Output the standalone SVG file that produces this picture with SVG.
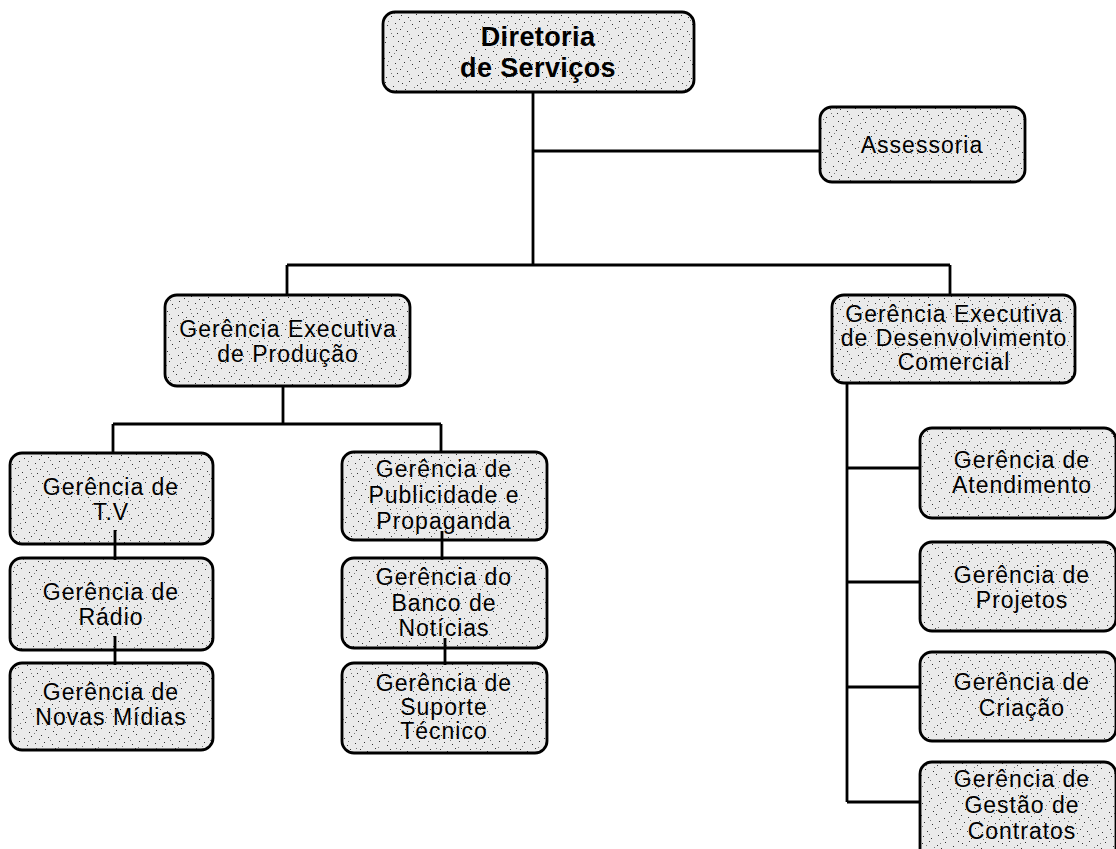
<svg xmlns="http://www.w3.org/2000/svg" width="1116" height="849" viewBox="0 0 1116 849">
<defs>
<pattern id="stip" width="40" height="40" patternUnits="userSpaceOnUse">
<rect width="40" height="40" fill="#eaeaea"/>
<g fill="#333">
<rect x="2" y="3" width="1" height="1"/><rect x="9" y="1" width="1" height="1"/><rect x="17" y="5" width="1" height="1"/><rect x="25" y="2" width="1" height="1"/><rect x="33" y="6" width="1" height="1"/><rect x="38" y="1" width="1" height="1"/>
<rect x="5" y="9" width="1" height="1"/><rect x="13" y="11" width="1" height="1"/><rect x="21" y="8" width="1" height="1"/><rect x="29" y="12" width="1" height="1"/><rect x="36" y="10" width="1" height="1"/>
<rect x="1" y="15" width="1" height="1"/><rect x="8" y="17" width="1" height="1"/><rect x="16" y="14" width="1" height="1"/><rect x="24" y="18" width="1" height="1"/><rect x="31" y="16" width="1" height="1"/><rect x="39" y="19" width="1" height="1"/>
<rect x="4" y="22" width="1" height="1"/><rect x="12" y="24" width="1" height="1"/><rect x="19" y="21" width="1" height="1"/><rect x="27" y="25" width="1" height="1"/><rect x="35" y="23" width="1" height="1"/>
<rect x="0" y="29" width="1" height="1"/><rect x="7" y="31" width="1" height="1"/><rect x="15" y="28" width="1" height="1"/><rect x="22" y="32" width="1" height="1"/><rect x="30" y="29" width="1" height="1"/><rect x="37" y="33" width="1" height="1"/>
<rect x="3" y="36" width="1" height="1"/><rect x="11" y="38" width="1" height="1"/><rect x="18" y="35" width="1" height="1"/><rect x="26" y="37" width="1" height="1"/><rect x="33" y="36" width="1" height="1"/>
</g>
<g fill="#777">
<rect x="6" y="5" width="1" height="1"/><rect x="20" y="3" width="1" height="1"/><rect x="34" y="13" width="1" height="1"/><rect x="10" y="20" width="1" height="1"/><rect x="28" y="21" width="1" height="1"/><rect x="2" y="26" width="1" height="1"/><rect x="18" y="27" width="1" height="1"/><rect x="36" y="28" width="1" height="1"/><rect x="9" y="34" width="1" height="1"/><rect x="23" y="39" width="1" height="1"/><rect x="14" y="7" width="1" height="1"/><rect x="31" y="33" width="1" height="1"/>
</g>
</pattern>
<style>
.box{fill:url(#stip);stroke:#000;stroke-width:2.8}
.t{font-family:"Liberation Sans",Arial,sans-serif;font-size:23px;letter-spacing:1px;fill:#000;text-anchor:middle}
.b{font-weight:bold;font-size:27px;letter-spacing:0.4px}
.c{fill:none;stroke:#000;stroke-width:2.8}
</style>
</defs>
<rect width="1116" height="849" fill="#fff"/>
<g id="nodes">
<g id="diretoria"><rect class="box" x="383" y="12" width="311" height="80" rx="12"/><text class="t b" x="538" y="46">Diretoria</text><text class="t b" x="538" y="77">de Serviços</text></g>
<g id="assessoria"><rect class="box" x="820" y="107" width="205" height="75" rx="12"/><text class="t" x="922" y="153">Assessoria</text></g>
<g id="exec-producao"><rect class="box" x="165" y="295" width="245" height="91" rx="12"/><text class="t" x="288" y="337">Gerência Executiva</text><text class="t" x="288" y="362">de Produção</text></g>
<g id="exec-comercial"><rect class="box" x="832" y="295" width="243" height="88" rx="12"/><text class="t" x="954" y="322">Gerência Executiva</text><text class="t" x="954" y="346">de Desenvolvimento</text><text class="t" x="954" y="370">Comercial</text></g>
<g id="tv"><rect class="box" x="10" y="453" width="203" height="91" rx="12"/><text class="t" x="111" y="495">Gerência de</text><text class="t" x="111" y="520">T.V</text></g>
<g id="radio"><rect class="box" x="10" y="558" width="203" height="92" rx="12"/><text class="t" x="111" y="600">Gerência de</text><text class="t" x="111" y="625">Rádio</text></g>
<g id="novas-midias"><rect class="box" x="10" y="663" width="203" height="87" rx="12"/><text class="t" x="111" y="700">Gerência de</text><text class="t" x="111" y="725">Novas Mídias</text></g>
<g id="publicidade"><rect class="box" x="342" y="452" width="205" height="88" rx="12"/><text class="t" x="444" y="477">Gerência de</text><text class="t" x="444" y="503">Publicidade e</text><text class="t" x="444" y="529">Propaganda</text></g>
<g id="banco-noticias"><rect class="box" x="342" y="558" width="205" height="90" rx="12"/><text class="t" x="444" y="585">Gerência do</text><text class="t" x="444" y="611">Banco de</text><text class="t" x="444" y="636">Notícias</text></g>
<g id="suporte"><rect class="box" x="342" y="663" width="205" height="90" rx="12"/><text class="t" x="444" y="691">Gerência de</text><text class="t" x="444" y="715">Suporte</text><text class="t" x="444" y="739">Técnico</text></g>
<g id="atendimento"><rect class="box" x="920" y="428" width="196" height="90" rx="12"/><text class="t" x="1022" y="468">Gerência de</text><text class="t" x="1022" y="493">Atendimento</text></g>
<g id="projetos"><rect class="box" x="920" y="542" width="196" height="89" rx="12"/><text class="t" x="1022" y="583">Gerência de</text><text class="t" x="1022" y="608">Projetos</text></g>
<g id="criacao"><rect class="box" x="920" y="652" width="196" height="89" rx="12"/><text class="t" x="1022" y="690">Gerência de</text><text class="t" x="1022" y="716">Criação</text></g>
<g id="contratos"><rect class="box" x="920" y="762" width="196" height="100" rx="12"/><text class="t" x="1022" y="787">Gerência de</text><text class="t" x="1022" y="813">Gestão de</text><text class="t" x="1022" y="839">Contratos</text></g>
</g>
<g id="connectors" class="c">
<path d="M533 92V265M533 151H820M287 265H950M287 265V295M950 265V295"/>
<path d="M283 386V424M113 424H441M113 424V453M441 424V452"/>
<path d="M115 530V560M115 636V665M442 531V560M445 638V665"/>
<path d="M847 383V802M847 468H920M847 582H920M847 687H920M847 802H920"/>
</g>
</svg>
